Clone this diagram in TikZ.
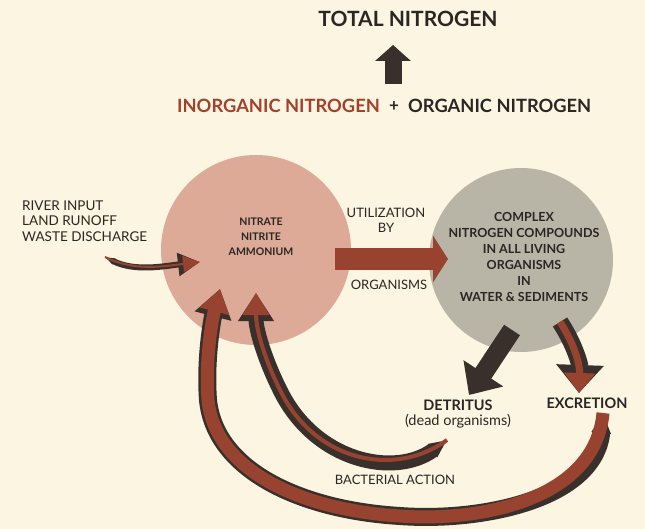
\documentclass[tikz,border=0pt]{standalone}
\usepackage{fontspec}
\setmainfont{Lato}
\usetikzlibrary{arrows.meta}
\definecolor{bg}{HTML}{FBF5E1}
\definecolor{pinkc}{HTML}{DCAA96}
\definecolor{grayc}{HTML}{B8B4A6}
\definecolor{redt}{HTML}{A3402B}
\definecolor{darkt}{HTML}{2A2624}
\definecolor{arrred}{HTML}{97432F}
\definecolor{arrdark}{HTML}{3A302B}
\begin{document}
\begin{tikzpicture}[x=1pt,y=-1pt,
  lbl/.style={inner sep=0pt, text=darkt, align=center},
  blob/.style={circle, inner sep=0pt},
  darkband/.style={draw=arrdark, line cap=butt},
  redband/.style={draw=arrred, line cap=butt}]
\fill[bg] (0,0) rectangle (645,529);
\useasboundingbox (0,0) rectangle (645,529);

% circles
\node[blob, fill=pinkc, minimum size=190pt] (inorg) at (256,250) {};
\node[blob, fill=grayc, minimum size=184pt] (org) at (521,260) {};

% text nodes
\node[lbl, font=\bfseries\fontsize{21}{24}\selectfont] (total) at (408,19) {TOTAL NITROGEN};
\node[lbl, anchor=east, text=redt, font=\bfseries\fontsize{18.3}{21}\selectfont] (inorgN) at (380,106) {INORGANIC NITROGEN};
\node[lbl, font=\bfseries\fontsize{17}{19}\selectfont] (plus) at (394,107) {+};
\node[lbl, anchor=west, font=\bfseries\fontsize{18.3}{21}\selectfont] (orgN) at (408,106) {ORGANIC NITROGEN};
\node[lbl, anchor=west, align=left, font=\fontsize{13.5}{15.5}\selectfont] (river) at (22,221) {RIVER INPUT\\LAND RUNOFF\\WASTE DISCHARGE};

% connector end points
\coordinate (upS) at (393,84);
\coordinate (upE) at (393,45);
\coordinate (rivS) at (105,257);
\coordinate (rivE) at (200,262);
\coordinate (utilS) at (335,259);
\coordinate (utilE) at (448,259);
\coordinate (detS) at (512,330);
\coordinate (detE) at (469,395);
\coordinate (excS) at (560,322);
\coordinate (excE) at (579,393);
\coordinate (bacS) at (447,440);
\coordinate (bacE) at (256,293);
\coordinate (exbS) at (603,413);
\coordinate (exbE) at (220,289);

% up arrow
\draw[darkband, line width=17pt, -{Triangle[width=35pt,length=16pt]}] (upS) -- (upE);

% river input arrow
\draw[darkband, line width=6pt, {Triangle[width=6pt,length=10pt]}-{Triangle[width=22pt,length=22pt]}]
  (rivS) .. controls (135,272) and (165,266) .. (rivE);
\draw[redband, line width=2pt, -{Triangle[width=16pt,length=17pt]}]
  (rivS) .. controls (135,272) and (165,266) .. (rivE);

% utilization arrow
\draw[redband, line width=22pt, -{Triangle[width=46pt,length=15pt]}] (utilS) -- (utilE);

% detritus arrow
\draw[darkband, line width=19pt, -{Triangle[width=46pt,length=26pt]}] (detS) -- (detE);

% excretion arrow
\draw[darkband, line width=17pt, -{Triangle[width=46pt,length=28pt]}]
  (excS) .. controls (575,345) and (580,365) .. (excE);
\draw[redband, line width=7pt, -{Triangle[width=30pt,length=20pt]}]
  (excS) .. controls (575,345) and (580,365) .. (excE);

% bacterial action: detritus -> inorganic
\draw[darkband, line width=15pt, {Triangle[width=15pt,length=18pt]}-{Triangle[width=34pt,length=28pt]}]
  (bacS) .. controls (395,478) and (315,462) .. (280,390) .. controls (265,360) and (256,330) .. (bacE);
\draw[redband, line width=4pt, -{Triangle[width=26pt,length=22pt]}]
  (bacS) .. controls (395,478) and (315,462) .. (280,390) .. controls (265,360) and (256,330) .. (bacE);

% bacterial action: excretion -> inorganic
\draw[darkband, line width=18pt, {Triangle[width=18pt,length=20pt]}-{Triangle[width=36pt,length=28pt]}]
  (exbS) .. controls (595,500) and (480,522) .. (400,516) .. controls (300,510) and (215,470) .. (208,400) .. controls (205,360) and (212,320) .. (exbE);
\draw[redband, line width=13pt, -{Triangle[width=29pt,length=23pt]}]
  (exbS) .. controls (595,500) and (480,522) .. (400,516) .. controls (300,510) and (215,470) .. (208,400) .. controls (205,360) and (212,320) .. (exbE);

% labels on top
\node[lbl, font=\bfseries\fontsize{10.5}{15}\selectfont] (inorgtxt) at (261,237) {NITRATE\\NITRITE\\AMMONIUM};
\node[lbl, font=\bfseries\fontsize{12.5}{16}\selectfont] (orgtxt) at (524,257) {COMPLEX\\NITROGEN COMPOUNDS\\IN ALL LIVING\\ORGANISMS\\IN\\WATER \& SEDIMENTS};
\node[lbl, font=\fontsize{13}{15}\selectfont] (util) at (386,220) {UTILIZATION\\BY};
\node[lbl, font=\fontsize{13}{15}\selectfont] (orgs) at (389,285) {ORGANISMS};
\node[lbl, font=\bfseries\fontsize{14.5}{15}\selectfont] (detritus) at (458,405) {DETRITUS};
\node[lbl, font=\fontsize{14.5}{15}\selectfont] (dead) at (458,421) {(dead organisms)};
\node[lbl, font=\bfseries\fontsize{14.5}{15}\selectfont] (excretion) at (587,403) {EXCRETION};
\node[lbl, font=\fontsize{13}{15}\selectfont] (bact) at (395,480) {BACTERIAL ACTION};
\end{tikzpicture}
\end{document}
